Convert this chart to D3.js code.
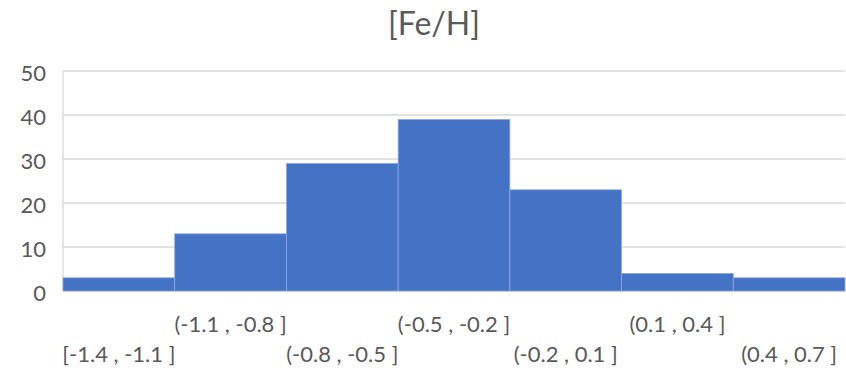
<!DOCTYPE html>
<html>
<head>
<meta charset="utf-8">
<script src="https://cdn.jsdelivr.net/npm/d3@7"></script>
<style>
  body { margin: 0; background: #fff; }
  svg { display: block; font-family: Lato, "Open Sans", sans-serif; }
</style>
</head>
<body>
<div id="chart"></div>
<script>
// --- Data ---
const bins = ["[-1.4 , -1.1 ]", "(-1.1 , -0.8 ]", "(-0.8 , -0.5 ]", "(-0.5 , -0.2 ]",
              "(-0.2 , 0.1 ]", "(0.1 , 0.4 ]", "(0.4 , 0.7 ]"];
const counts = [3, 13, 29, 39, 23, 4, 3];
const yTicks = [0, 10, 20, 30, 40, 50];
const title = "[Fe/H]";

const W = 846, H = 370;
const margin = { top: 71, right: 1, bottom: 79, left: 63 };
const width = W - margin.left - margin.right;
const height = H - margin.top - margin.bottom;

const svg = d3.select("#chart").append("svg")
  .attr("width", W).attr("height", H);

const g = svg.append("g")
  .attr("transform", `translate(${margin.left},${margin.top})`);

const x = d3.scaleBand().domain(bins).range([0, width]).padding(0);
const y = d3.scaleLinear().domain([0, 50]).range([height, 0]);

// gridlines
g.selectAll(".grid").data(yTicks).join("line")
  .attr("x1", 0).attr("x2", width)
  .attr("y1", d => y(d)).attr("y2", d => y(d))
  .attr("stroke", "#d9d9d9").attr("stroke-width", 1.3);

// left border line
g.append("line")
  .attr("x1", 0).attr("x2", 0).attr("y1", y(50)).attr("y2", y(0))
  .attr("stroke", "#d9d9d9").attr("stroke-width", 1.3);

// bars
g.selectAll(".bar").data(counts).join("rect")
  .attr("x", (d, i) => x(bins[i]))
  .attr("y", d => y(d))
  .attr("width", x.bandwidth())
  .attr("height", d => y(0) - y(d))
  .attr("fill", "#4472c4")
  .attr("stroke", "#8faadc")
  .attr("stroke-width", 0.8);

// y axis labels
g.selectAll(".ylab").data(yTicks).join("text")
  .attr("x", -17).attr("y", d => y(d) + 2)
  .attr("dy", "0.36em")
  .attr("text-anchor", "end")
  .attr("font-size", 22)
  .attr("fill", "#595959")
  .text(d => d);

// x labels, staggered in two rows
g.selectAll(".xlab").data(bins).join("text")
  .attr("x", d => x(d) + x.bandwidth() / 2)
  .attr("y", (d, i) => i % 2 === 0 ? height + 71 : height + 41)
  .attr("text-anchor", "middle")
  .attr("font-size", 22)
  .attr("fill", "#595959")
  .text(d => d);

// title
svg.append("text")
  .attr("x", 434).attr("y", 35)
  .attr("text-anchor", "middle")
  .attr("font-size", 32)
  .attr("fill", "#595959")
  .text(title);
</script>
</body>
</html>
